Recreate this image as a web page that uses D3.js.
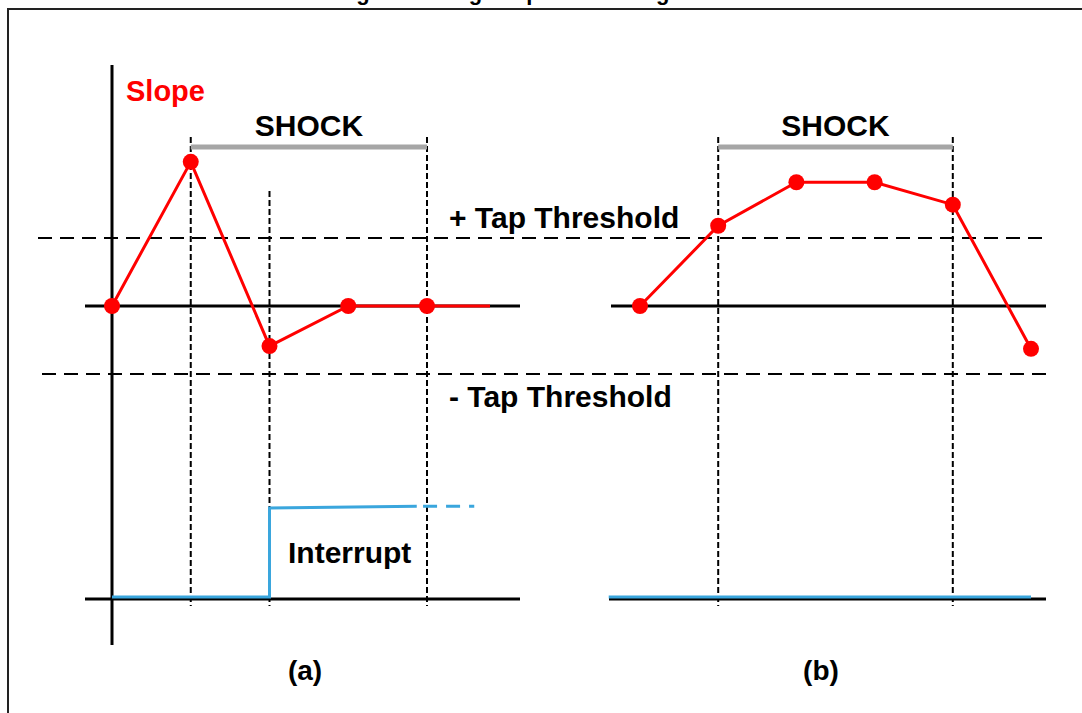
<!DOCTYPE html>
<html>
<head>
<meta charset="utf-8">
<script src="https://cdn.jsdelivr.net/npm/d3@7"></script>
<style>
  body { margin: 0; background: #fff; }
  text { font-family: "Liberation Sans", Arial, sans-serif; font-weight: bold; }
</style>
</head>
<body>
<svg class="tap-chart" width="1082" height="713"></svg>
<script>
(function () {
    'use strict';

    // slope samples, in units of the tap threshold
    var slopeA = [0, 2.12, -0.59, 0, 0];
    var slopeB = [0, 1.18, 1.82, 1.82, 1.49, -0.63];
    // interrupt output (0 = low, 1 = high), [sample, level]
    var intA = [[0, 0], [2, 0], [2, 1], [3.87, 1.02]];
    var intATail = [[3.95, 1.02], [4.6, 1.02]];
    var intB = [[-0.4, 0], [5, 0]];
    // shock window and interrupt marker, as sample indices
    var shockA = [1, 4];
    var shockB = [1, 4];
    var markA = [2];
    var thresholds = [1, -1];
    var thresholdLabels = ['+ Tap Threshold', '- Tap Threshold'];
    var panelLabels = ['(a)', '(b)'];

    var svg = d3.select('.tap-chart');
    var RED = '#ff0000', BLUE = '#3aa6dd';

    var xA = d3.scaleLinear().domain([0, 4]).range([112, 427]);
    var xB = d3.scaleLinear().domain([0, 5]).range([640, 1031]);
    var yS = d3.scaleLinear().domain([-1, 1]).range([374, 238]);
    var yI = d3.scaleLinear().domain([0, 1]).range([597, 508]);

    // title (cut off at the top edge, as in the source) and frame
    svg.append('text').attr('x', 533).attr('y', 0).attr('text-anchor', 'middle')
        .attr('font-size', 22).text('Figure 3. Single tap event recognition');
    svg.append('rect').attr('x', 8).attr('y', 9).attr('width', 1200).attr('height', 800)
        .attr('fill', 'none').attr('stroke', '#222').attr('stroke-width', 2);

    // threshold dashed lines across both panels
    svg.selectAll('.thr').data(thresholds).enter().append('line')
        .attr('x1', function (d) { return d > 0 ? 38 : 42; })
        .attr('x2', function (d) { return d > 0 ? 1046 : 1050; })
        .attr('y1', function (d) { return yS(d); })
        .attr('y2', function (d) { return yS(d); })
        .attr('stroke', '#000').attr('stroke-width', 2).attr('stroke-dasharray', '14,8');
    svg.selectAll('.thr-label').data(thresholdLabels).enter().append('text')
        .attr('x', 449)
        .attr('y', function (d, i) { return i === 0 ? 228 : 407; })
        .attr('font-size', 30).text(function (d) { return d; });

    // axes
    var axisLines = [
        [85, 520, yS(0)], [85, 520, yI(0) + 2],
        [611, 1046, yS(0)], [609, 1046, yI(0) + 2]
    ];
    svg.selectAll('.axis').data(axisLines).enter().append('line')
        .attr('x1', function (d) { return d[0]; }).attr('x2', function (d) { return d[1]; })
        .attr('y1', function (d) { return d[2]; }).attr('y2', function (d) { return d[2]; })
        .attr('stroke', '#000').attr('stroke-width', 3);
    svg.append('line').attr('x1', xA(0)).attr('x2', xA(0)).attr('y1', 65).attr('y2', 645)
        .attr('stroke', '#000').attr('stroke-width', 3);

    // vertical dashed event markers
    function markers(x, idx, top) {
        svg.append('g').selectAll('line').data(idx).enter().append('line')
            .attr('x1', function (d) { return x(d); }).attr('x2', function (d) { return x(d); })
            .attr('y1', top).attr('y2', 606)
            .attr('stroke', '#000').attr('stroke-width', 2).attr('stroke-dasharray', '6,3');
    }
    markers(xA, shockA, 137);
    markers(xA, markA, 191);
    markers(xB, shockB, 137);

    // shock bars + labels
    [[xA, shockA], [xB, shockB]].forEach(function (p) {
        var x = p[0], s = p[1];
        svg.append('line').attr('x1', x(s[0])).attr('x2', x(s[1]))
            .attr('y1', 147).attr('y2', 147)
            .attr('stroke', '#a6a6a6').attr('stroke-width', 5);
        svg.append('text').attr('x', (x(s[0]) + x(s[1])) / 2).attr('y', 136)
            .attr('text-anchor', 'middle').attr('font-size', 30).text('SHOCK');
    });

    // slope lines
    function slope(x, data, tailTo) {
        var line = d3.line().x(function (d, i) { return x(i); }).y(function (d) { return yS(d); });
        var g = svg.append('g');
        g.append('path').attr('d', line(data)).attr('fill', 'none')
            .attr('stroke', RED).attr('stroke-width', 3);
        if (tailTo !== undefined) {
            var last = data.length - 1;
            g.append('line').attr('x1', x(last)).attr('x2', x(tailTo))
                .attr('y1', yS(data[last])).attr('y2', yS(data[last]))
                .attr('stroke', RED).attr('stroke-width', 3);
        }
        g.selectAll('circle').data(data).enter().append('circle')
            .attr('cx', function (d, i) { return x(i); })
            .attr('cy', function (d) { return yS(d); })
            .attr('r', 8).attr('fill', RED);
    }
    slope(xA, slopeA, 4.8);
    slope(xB, slopeB);

    // interrupt lines
    function intLine(x, data, dash) {
        var line = d3.line().x(function (d) { return x(d[0]); }).y(function (d) { return yI(d[1]); });
        svg.append('path').attr('d', line(data)).attr('fill', 'none')
            .attr('stroke', BLUE).attr('stroke-width', 3)
            .attr('stroke-dasharray', dash || null);
    }
    intLine(xA, intA);
    intLine(xA, intATail, '14,9');
    intLine(xB, intB);

    // labels
    svg.append('text').attr('x', 126).attr('y', 101).attr('font-size', 29)
        .attr('fill', RED).text('Slope');
    svg.append('text').attr('x', 288).attr('y', 563).attr('font-size', 30).text('Interrupt');
    svg.selectAll('.plabel').data(panelLabels).enter().append('text')
        .attr('x', function (d, i) { return i === 0 ? 305 : 821; })
        .attr('y', 680).attr('text-anchor', 'middle').attr('font-size', 28)
        .text(function (d) { return d; });
})();
</script>
</body>
</html>
